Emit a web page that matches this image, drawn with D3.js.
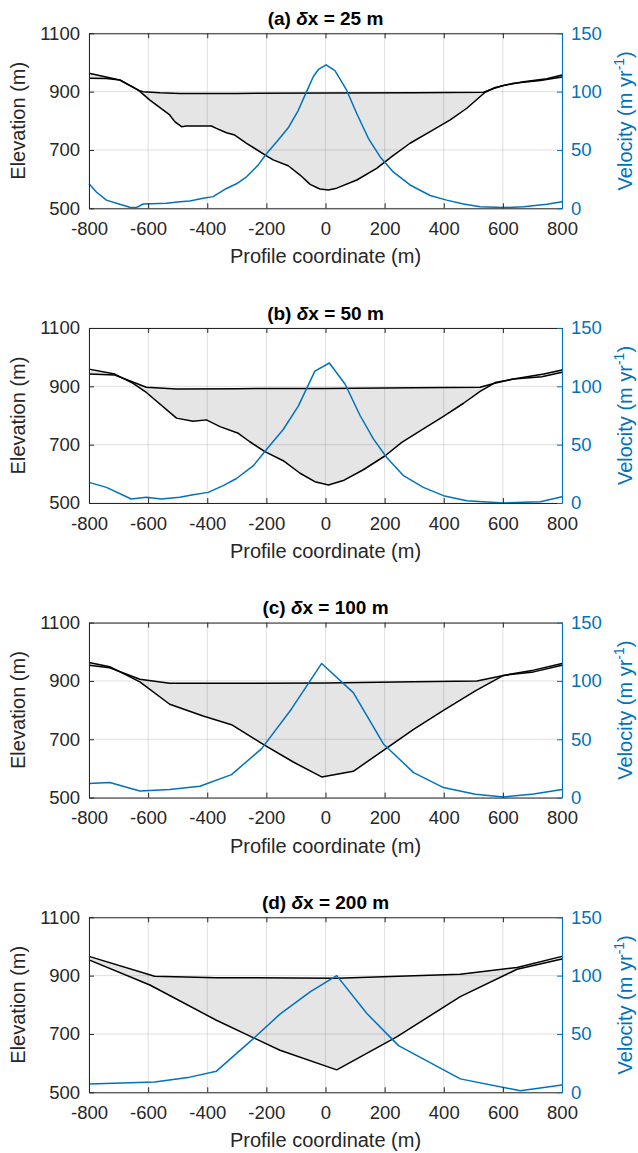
<!DOCTYPE html>
<html><head><meta charset="utf-8">
<script src="https://cdn.jsdelivr.net/npm/d3@7"></script>
<style>
html,body{margin:0;padding:0;background:#fff;}
svg text{font-family:Arial,"Liberation Sans",Helvetica,sans-serif;}
</style></head>
<body>
<svg id="chart" width="638" height="1153"></svg>
<script>
// ---------- data ----------
const titles = ["(a) ", "(b) ", "(c) ", "(d) "];
const titleRest = ["x = 25 m", "x = 50 m", "x = 100 m", "x = 200 m"];
const xTicks = [-800, -600, -400, -200, 0, 200, 400, 600, 800];
const elevTicks = [500, 700, 900, 1100];
const velTicks = [0, 50, 100, 150];

// panel (a) dx = 25 m
const surfA_x = [-800, -741, -696, -634, -617, -560, -493, -300, 0, 300, 535, 569, 602, 670, 749, 800];
const surfA_z = [946, 945, 940, 905, 900, 896, 894, 894, 895, 896, 898, 911, 921, 934, 944, 957];
const bedA_x = [-800, -696, -634, -594, -527, -510, -487, -470, -386, -369, -335, -307, -267, -205, -177, -126, -86, -52, -19, 10, 38, 106, 173, 224, 286, 354, 422, 478, 540, 574, 636, 727, 800];
const bedA_z = [963, 940, 906, 871, 820, 797, 780, 782, 782, 774, 759, 751, 723, 683, 666, 646, 614, 582, 566, 563, 569, 597, 637, 677, 723, 763, 803, 843, 898, 914, 929, 938, 950];
const velA_x = [-800, -775, -741, -696, -662, -640, -617, -538, -493, -459, -414, -380, -335, -301, -267, -228, -199, -165, -126, -92, -64, -41, -24, 2, 32, 72, 106, 145, 185, 230, 286, 354, 410, 467, 523, 602, 670, 749, 800];
const velA_v = [21, 14, 7, 3.4, 0.9, 0.6, 3.7, 4.3, 5.7, 6.3, 8.6, 10, 17, 21, 27, 37, 47, 57, 69, 84, 100, 113, 119, 123, 118, 101, 81, 60, 44, 31, 20, 11, 7, 3.7, 1.4, 0.6, 1.4, 3.4, 5.7];

// panel (b) dx = 50 m
const surfB_x = [-800, -713, -606, -504, -300, 0, 300, 523, 569, 636, 732, 800];
const surfB_z = [942, 939, 897, 891, 892, 893, 895, 897, 910, 925, 933, 948];
const bedB_x = [-800, -713, -651, -606, -504, -448, -403, -357, -295, -256, -205, -143, -86, -36, 10, 60, 128, 202, 258, 331, 399, 467, 523, 574, 636, 738, 800];
const bedB_z = [959, 942, 910, 879, 791, 780, 785, 762, 739, 710, 676, 645, 602, 573, 562, 577, 614, 662, 708, 754, 797, 842, 883, 913, 925, 942, 956];
const velB_x = [-800, -741, -657, -606, -555, -493, -448, -397, -346, -301, -244, -199, -143, -92, -36, 13, 66, 117, 162, 207, 264, 331, 399, 478, 602, 727, 800];
const velB_v = [17.7, 13.4, 3.4, 4.9, 3.4, 4.9, 7.1, 9.1, 14.9, 21, 32, 46, 63, 83, 113, 120, 102, 75, 55, 39, 23.4, 13.4, 6.3, 2, 0, 1, 5.4];

// panel (c) dx = 100 m
const surfC_x = [-800, -730, -628, -527, -300, 0, 298, 512, 602, 704, 800];
const surfC_z = [954, 945, 906, 892, 892, 893, 897, 900, 919, 931, 954];
const bedC_x = [-800, -730, -628, -527, -414, -318, -205, -109, -13, 94, 196, 298, 399, 507, 602, 704, 800];
const bedC_z = [963, 949, 897, 820, 780, 750, 679, 622, 571, 590, 662, 734, 799, 866, 919, 937, 960];
const velC_x = [-800, -730, -628, -527, -425, -318, -216, -115, -13, 94, 196, 298, 399, 507, 602, 704, 800];
const velC_v = [12, 12.9, 5.7, 6.9, 9.7, 19.7, 42, 76, 115, 90, 46, 21.4, 8.6, 2.9, 0.6, 3.1, 6.9];

// panel (d) dx = 200 m
const surfD_x = [-800, -578, -369, 38, 456, 648, 800];
const surfD_z = [966, 898, 893, 891, 905, 928, 966];
const bedD_x = [-800, -594, -369, -154, 38, 241, 456, 648, 800];
const bedD_z = [954, 868, 747, 644, 577, 690, 828, 922, 957];
const velD_x = [-800, -578, -459, -369, -244, -154, -52, 38, 140, 247, 456, 659, 800];
const velD_v = [7.2, 8.9, 13, 18.1, 46, 67, 86, 100, 67.5, 40, 11.5, 1.4, 6.3];

const surfXs = [surfA_x, surfB_x, surfC_x, surfD_x];
const surfZs = [surfA_z, surfB_z, surfC_z, surfD_z];
const bedXs = [bedA_x, bedB_x, bedC_x, bedD_x];
const bedZs = [bedA_z, bedB_z, bedC_z, bedD_z];
const velXs = [velA_x, velB_x, velC_x, velD_x];
const velVs = [velA_v, velB_v, velC_v, velD_v];

// ---------- layout ----------
const svg = d3.select("#chart");
const left = 89, right = 562, plotH = 175;
const tops = [33.3, 328, 622.6, 917.3];
const blue = "#0072BD", ink = "#262626";
const fmt = d => String(d);

const x = d3.scaleLinear().domain([-800, 800]).range([left, right]);

tops.forEach((top, i) => {
  const yE = d3.scaleLinear().domain([500, 1100]).range([top + plotH, top]);
  const yV = d3.scaleLinear().domain([0, 150]).range([top + plotH, top]);
  const g = svg.append("g");

  const surf = surfXs[i].map((d, k) => [d, surfZs[i][k]]);
  const bed = bedXs[i].map((d, k) => [d, bedZs[i][k]]);
  const vel = velXs[i].map((d, k) => [d, velVs[i][k]]);

  const lineE = d3.line().x(d => x(d[0])).y(d => yE(d[1]));
  const lineV = d3.line().x(d => x(d[0])).y(d => yV(d[1]));

  // fill between surface and bed
  g.append("path")
    .attr("d", lineE(surf.concat(bed.slice().reverse())) + "Z")
    .attr("fill", "#e5e5e5").attr("stroke", "none");

  // grid
  g.selectAll(".gx").data(xTicks).enter().append("line")
    .attr("x1", d => x(d)).attr("x2", d => x(d))
    .attr("y1", top).attr("y2", top + plotH)
    .attr("stroke", "rgba(38,38,38,0.15)").attr("stroke-width", 1);
  g.selectAll(".gy").data(elevTicks).enter().append("line")
    .attr("x1", left).attr("x2", right)
    .attr("y1", d => yE(d)).attr("y2", d => yE(d))
    .attr("stroke", "rgba(38,38,38,0.15)").attr("stroke-width", 1);

  // lines
  g.append("path").attr("d", lineE(surf)).attr("fill", "none")
    .attr("stroke", "#000").attr("stroke-width", 1.5).attr("stroke-linejoin", "round");
  g.append("path").attr("d", lineE(bed)).attr("fill", "none")
    .attr("stroke", "#000").attr("stroke-width", 1.5).attr("stroke-linejoin", "round");
  g.append("path").attr("d", lineV(vel)).attr("fill", "none")
    .attr("stroke", blue).attr("stroke-width", 1.5).attr("stroke-linejoin", "round");

  // axes
  const axB = g.append("g").attr("transform", `translate(0,${top + plotH})`)
    .call(d3.axisBottom(x).tickValues(xTicks).tickFormat(fmt).tickSize(-5).tickPadding(13.5).tickSizeOuter(0));
  const axT = g.append("g").attr("transform", `translate(0,${top})`)
    .call(d3.axisTop(x).tickValues(xTicks).tickSize(-5).tickSizeOuter(0).tickFormat(""));
  const axL = g.append("g").attr("transform", `translate(${left},0)`)
    .call(d3.axisLeft(yE).tickValues(elevTicks).tickFormat(fmt).tickSize(-5).tickPadding(9).tickSizeOuter(0));
  const axR = g.append("g").attr("transform", `translate(${right},0)`)
    .call(d3.axisRight(yV).tickValues(velTicks).tickFormat(fmt).tickSize(-5).tickPadding(9).tickSizeOuter(0));

  [axB, axT, axL].forEach(a => {
    a.select(".domain").attr("stroke", ink).attr("stroke-width", 1);
    a.selectAll(".tick line").attr("stroke", ink).attr("stroke-width", 1);
    a.selectAll("text").attr("fill", ink).style("font-size", "18.5px").attr("font-family", null);
  });
  axR.select(".domain").attr("stroke", blue).attr("stroke-width", 1);
  axR.selectAll(".tick line").attr("stroke", blue).attr("stroke-width", 1);
  axR.selectAll("text").attr("fill", blue).style("font-size", "18.5px").attr("font-family", null);
  axB.selectAll("text").attr("dy", "0.71em");

  // title
  const t = g.append("text").attr("x", (left + right) / 2).attr("y", top - 8.5)
    .attr("text-anchor", "middle").attr("fill", "#000")
    .style("font-size", "19px").style("font-weight", "bold");
  t.append("tspan").text(titles[i]);
  t.append("tspan").style("font-style", "italic").text("\u03b4");
  t.append("tspan").text(titleRest[i]);

  // x label
  g.append("text").attr("x", (left + right) / 2).attr("y", top + plotH + 55)
    .attr("text-anchor", "middle").attr("fill", ink).style("font-size", "20px")
    .text("Profile coordinate (m)");

  // left y label
  g.append("text").attr("transform", `translate(25,${top + plotH / 2}) rotate(-90)`)
    .attr("text-anchor", "middle").attr("fill", ink).style("font-size", "20px")
    .text("Elevation (m)");

  // right y label
  const rl = g.append("text").attr("transform", `translate(632,${top + plotH / 2}) rotate(-90)`)
    .attr("text-anchor", "middle").attr("fill", blue).style("font-size", "20px");
  rl.append("tspan").text("Velocity (m yr");
  rl.append("tspan").attr("dy", -8).style("font-size", "14px").text("-1");
  rl.append("tspan").attr("dy", 8).text(")");
});
</script>
</body></html>
